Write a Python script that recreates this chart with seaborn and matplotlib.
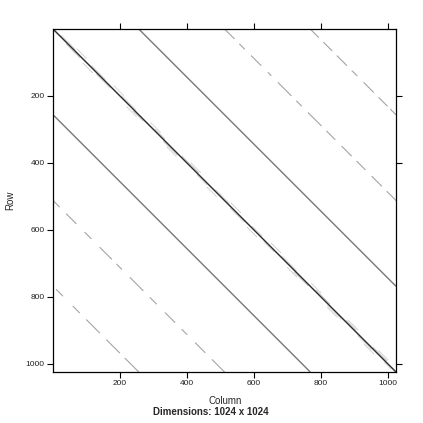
import numpy as np
import pandas as pd
import seaborn as sns
import matplotlib
matplotlib.use("Agg")
import matplotlib.pyplot as plt

# ---- data: sparse 1024 x 1024 matrix described by its diagonals ----
n_dim = 1024
# offset = column - row ; value controls the grey level
diag_offsets = [0, 256, -256, 512, -512, 768, -768, 6, -6, 12, -12]
diag_values = [4, 3, 3, 2, 2, 2, 2, 1, 1, 1, 1]
diag_strides = [1, 1, 1, 2, 2, 2, 2, 3, 3, 3, 3]
# segments (start, end) along each diagonal (index = row for offset>=0, column for offset<0)
diag_segments = [
    [(0, 1024)],
    [(0, 768)],
    [(0, 768)],
    [(0, 30), (45, 60), (80, 110), (130, 140), (160, 200), (215, 230), (250, 290),
     (305, 330), (350, 380), (395, 420), (440, 470), (485, 512)],
    [(0, 20), (40, 70), (95, 115), (140, 175), (190, 205), (230, 270), (290, 310),
     (335, 365), (385, 400), (425, 455), (475, 512)],
    [(0, 25), (40, 65), (80, 110), (125, 140), (160, 190), (205, 230), (240, 256)],
    [(10, 30), (60, 80), (100, 140), (160, 200), (215, 256)],
    [(20, 60), (110, 150), (200, 240), (300, 330), (380, 430), (480, 520), (590, 620),
     (680, 720), (780, 820), (870, 900), (950, 990)],
    [(40, 80), (130, 170), (240, 270), (330, 370), (430, 460), (530, 570), (630, 660),
     (720, 760), (820, 860), (910, 950), (990, 1010)],
    [(60, 90), (170, 200), (280, 310), (400, 430), (520, 550), (640, 670), (760, 790),
     (870, 900), (960, 990)],
    [(90, 120), (220, 250), (340, 370), (460, 490), (580, 610), (700, 730), (820, 850),
     (930, 960)],
]
grey_levels = {4: "#2a2a2a", 3: "#7a7a7a", 2: "#9c9c9c", 1: "#c8c8c8"}
tick_values = [200, 400, 600, 800, 1000]
right_tick_values = [200, 400, 1000]

# ---- build the non-zero entries ----
rows, cols, vals = [], [], []
for off, v, st, segs in zip(diag_offsets, diag_values, diag_strides, diag_segments):
    for a, b in segs:
        for k in range(a, b, st):
            if off >= 0:
                r, c = k + 1, k + 1 + off
            else:
                r, c = k + 1 - off, k + 1
            if 1 <= r <= n_dim and 1 <= c <= n_dim:
                rows.append(r); cols.append(c); vals.append(v)
df = pd.DataFrame({"Row": rows, "Column": cols, "value": vals})
df = df.sort_values("value", kind="stable")

sns.set_theme(style="white")
plt.rcParams["font.family"] = ["Liberation Sans", "DejaVu Sans"]

fig = plt.figure(figsize=(4.23, 4.23), dpi=100)
ax = fig.add_axes([53 / 423, 1 - 372 / 423, 343 / 423, 343 / 423])

sns.scatterplot(data=df, x="Column", y="Row", hue="value",
                palette=grey_levels, marker="s", s=0.6, snap=False,
                linewidth=0, legend=False, ax=ax)

ax.set_xlim(0.5, n_dim + 0.5)
ax.set_ylim(n_dim + 0.5, 0.5)

ax.set_xticks(tick_values)
ax.set_yticks(tick_values)
ax.tick_params(axis="both", which="both", direction="out", length=4, width=0.8,
               color="black", labelsize=6, pad=2, labelcolor="#222222",
               bottom=True, left=True, top=True, right=False,
               labelbottom=True, labelleft=True, labeltop=False, labelright=False)
sec = ax.secondary_yaxis("right")
sec.set_yticks(right_tick_values)
sec.tick_params(direction="out", length=4, width=0.8, color="black", labelright=False)
sec.spines["right"].set_visible(False)

for sp in ax.spines.values():
    sp.set_visible(True)
    sp.set_color("black")
    sp.set_linewidth(0.9)

ax.set_xlabel("")
ax.set_ylabel("")
fig.text(10 / 423, 1 - 200 / 423, "Row", rotation=90, ha="center", va="center", fontsize=7)
fig.text(225 / 423, 1 - 401 / 423, "Column", ha="center", va="center", fontsize=7)
fig.text(211 / 423, 1 - 412 / 423, "Dimensions: 1024 x 1024", ha="center", va="center",
         fontsize=7, fontweight="bold")

fig.savefig("out.png", dpi=100, facecolor="white")
